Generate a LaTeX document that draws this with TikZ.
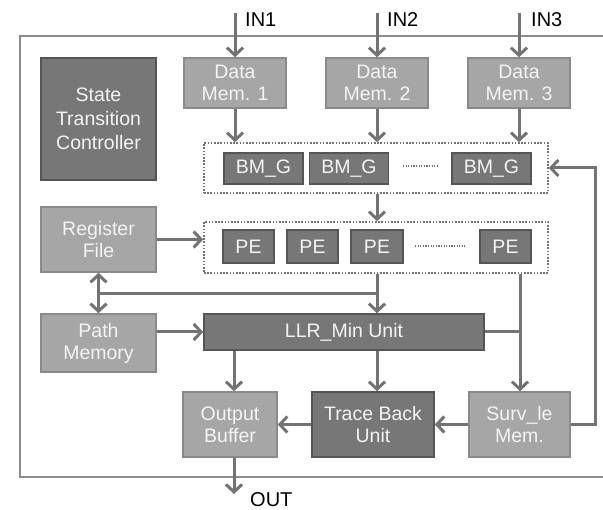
\documentclass[tikz,border=0pt]{standalone}
\usepackage{fontspec}
\setmainfont{Liberation Sans}
\usetikzlibrary{arrows.meta,calc}
\definecolor{lightfill}{HTML}{A6A6A6}
\definecolor{lborder}{HTML}{8A8A8A}
\definecolor{darkfill}{HTML}{777777}
\definecolor{dborder}{HTML}{555555}
\definecolor{arrcol}{HTML}{737373}
\definecolor{framecol}{HTML}{8C8C8C}
\definecolor{boxtext}{HTML}{F4F4F4}
\tikzset{
  boxbase/.style={line width=1.5pt, text=boxtext, font=\fontsize{19.5}{22}\selectfont, align=center, inner sep=0pt},
  lbox/.style={boxbase, draw=lborder, fill=lightfill},
  dbox/.style={boxbase, draw=dborder, fill=darkfill},
  grp/.style={draw=arrcol, line width=1.6pt, dash pattern=on 1.6pt off 1.6pt},
  dotsep/.style={draw=arrcol, line width=1.4pt, dash pattern=on 1.2pt off 1.4pt},
  conn/.style={draw=arrcol, line width=3pt},
  arr/.style={conn, -{Straight Barb[length=7.5pt,width=16pt]}},
  darr/.style={conn, {Straight Barb[length=7.5pt,width=16pt]}-{Straight Barb[length=7.5pt,width=16pt]}},
  framel/.style={draw=framecol, line width=2pt},
  lab/.style={font=\fontsize{20}{22}\selectfont, text=black, inner sep=0pt}
}
\begin{document}
\begin{tikzpicture}[x=1pt,y=-1pt]
\useasboundingbox (0,0) rectangle (603,510);
% frame
\draw[framel] (604,36) -- (20,36) -- (20,477) -- (604,477);
% nodes
\node[dbox, minimum width=115pt, minimum height=122pt, font=\fontsize{19.5}{24}\selectfont] (stc) at (98.5,119) {State\\Transition\\Controller};
\node[lbox, minimum width=102pt, minimum height=50pt] (dm1) at (235,83) {Data\\Mem. 1};
\node[lbox, minimum width=102pt, minimum height=50pt] (dm2) at (377,83) {Data\\Mem. 2};
\node[lbox, minimum width=102pt, minimum height=50pt] (dm3) at (519,83) {Data\\Mem. 3};
\node[grp, minimum width=344pt, minimum height=50pt] (bmg) at (376,168) {};
\node[dbox, minimum width=79pt, minimum height=31pt] (bm1) at (263.5,168.5) {BM\_G};
\node[dbox, minimum width=79pt, minimum height=31pt] (bm2) at (349,168.5) {BM\_G};
\node[dbox, minimum width=79pt, minimum height=31pt] (bm3) at (491.5,168.5) {BM\_G};
\coordinate (d1a) at (403,166);
\coordinate (d1b) at (438,166);
\node[lbox, minimum width=115pt, minimum height=65pt] (rf) at (98.5,239.5) {Register\\File};
\node[grp, minimum width=344pt, minimum height=51pt] (peg) at (376,247.5) {};
\node[dbox, minimum width=51pt, minimum height=33pt] (pe1) at (248.5,246.5) {PE};
\node[dbox, minimum width=51pt, minimum height=33pt] (pe2) at (312.5,246.5) {PE};
\node[dbox, minimum width=52pt, minimum height=33pt] (pe3) at (377,246.5) {PE};
\node[dbox, minimum width=51pt, minimum height=33pt] (pe4) at (505.5,246.5) {PE};
\coordinate (d2a) at (415,246);
\coordinate (d2b) at (465,246);
\node[lbox, minimum width=115pt, minimum height=58pt] (pm) at (98.5,343) {Path\\Memory};
\node[dbox, minimum width=280pt, minimum height=36pt] (llr) at (344,332) {LLR\_Min Unit};
\node[lbox, minimum width=94pt, minimum height=65pt] (ob) at (230,424.5) {Output\\Buffer};
\node[dbox, minimum width=122pt, minimum height=65pt] (tb) at (373,424.5) {Trace Back\\Unit};
\node[lbox, minimum width=101pt, minimum height=65pt] (sm) at (519.5,424.5) {Surv\_le\\Mem.};
% labels
\node[lab, anchor=base west] (l1) at (245,27) {IN1};
\node[lab, anchor=base west] (l2) at (387,27) {IN2};
\node[lab, anchor=base west] (l3) at (531,27) {IN3};
\node[lab, anchor=base west] (lo) at (250,507) {OUT};
% helper coordinates
\coordinate (in1) at (235,13);
\coordinate (in2) at (377,13);
\coordinate (in3) at (519,13);
\coordinate (bus) at (377,294);
\coordinate (xob) at (234,0);
\coordinate (xr) at (520,0);
\coordinate (fb) at (595,0);
\coordinate (out) at (234,494);
% connectors
\draw[dotsep] (d1a) -- (d1b);
\draw[dotsep] (d2a) -- (d2b);
\draw[arr] (in1) -- (dm1.north);
\draw[arr] (in2) -- (dm2.north);
\draw[arr] (in3) -- (dm3.north);
\draw[arr] (dm1.south) -- (dm1.south |- bmg.north);
\draw[arr] (dm2.south) -- (dm2.south |- bmg.north);
\draw[arr] (dm3.south) -- (dm3.south |- bmg.north);
\draw[arr] (bus |- bmg.south) -- (bus |- peg.north);
\draw[arr] (rf.east) -- (rf.east -| peg.west);
\draw[darr] (rf.south) -- (pm.north);
\draw[conn] (rf.south |- bus) -- (bus);
\draw[arr] (bus |- peg.south) -- (bus |- llr.north);
\draw[arr] (llr.west -| pm.east) -- (llr.west);
\draw[arr] (xob |- llr.south) -- (xob |- ob.north);
\draw[arr] (bus |- llr.south) -- (bus |- tb.north);
\draw[arr] (xr |- peg.south) -- (xr |- sm.north);
\draw[conn] (llr.east) -- (llr.east -| xr);
\draw[arr] (sm.east) -- (sm.east -| fb) -- (fb |- bmg.east) -- (bmg.east);
\draw[arr] (sm.west) -- (tb.east);
\draw[arr] (tb.west) -- (ob.east);
\draw[arr] (xob |- ob.south) -- (out);
\end{tikzpicture}
\end{document}
